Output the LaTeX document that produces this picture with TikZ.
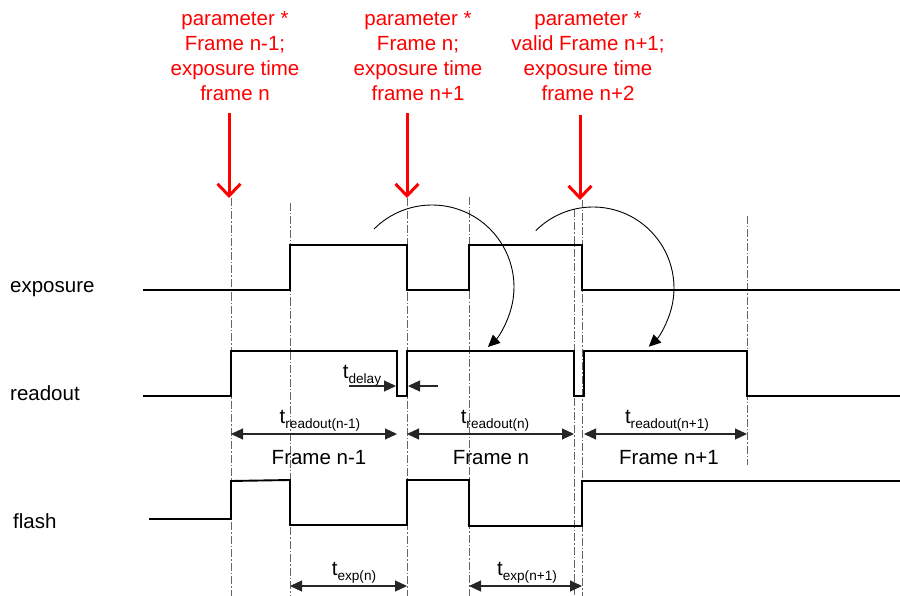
\documentclass[tikz,border=0pt]{standalone}
\usepackage{fontspec}
\setmainfont{Liberation Sans}
\usetikzlibrary{arrows.meta}
\newcommand{\tsubx}[1]{t\raisebox{-5pt}{\fontsize{13.6pt}{14pt}\selectfont #1}}
\begin{document}
\begin{tikzpicture}[x=1pt,y=-1pt,
  guide/.style={gray!80!black, line width=0.8pt, dash pattern=on 8pt off 2pt on 1.5pt off 2pt},
  signal/.style={black, line width=1.9pt, line join=miter},
  dimline/.style={black!85, line width=1.1pt, {Triangle[length=12pt,width=11pt]}-{Triangle[length=12pt,width=11pt]}},
  onearrow/.style={black!85, line width=1.1pt, -{Triangle[length=12pt,width=11pt]}},
  arcline/.style={black, line width=0.9pt, -{Triangle[length=12pt,width=11pt]}},
  redtext/.style={text=red, font=\fontsize{20.5pt}{25pt}\selectfont, align=center, inner sep=0pt},
  redarrow/.style={red, line width=3pt, -{Straight Barb[length=12pt,width=23pt]}},
  lbl/.style={font=\fontsize{20.5pt}{24pt}\selectfont, inner sep=0pt},
  dimlbl/.style={font=\fontsize{20.5pt}{24pt}\selectfont, inner sep=0pt, anchor=base}]
\useasboundingbox (0,0) rectangle (900,596);

% guide lines
\draw[guide] (231,198) -- (231,596);
\draw[guide] (290,203) -- (290,596);
\draw[guide] (407,198) -- (407,596);
\draw[guide] (469,197) -- (469,596);
\draw[guide] (574,209) -- (574,596);
\draw[guide] (582,200) -- (582,596);
\draw[guide] (747,216) -- (747,465);

% red annotations
\node[redtext, anchor=north] (p1) at (235,11) {parameter *\\Frame n-1;\\exposure time\\frame n};
\node[redtext, anchor=north] (p2) at (418,11) {parameter *\\Frame n;\\exposure time\\frame n+1};
\node[redtext, anchor=north] (p3) at (588,11) {parameter *\\valid Frame n+1;\\exposure time\\frame n+2};
\coordinate (a1s) at (229,113); \coordinate (a1e) at (229,198);
\coordinate (a2s) at (407,113); \coordinate (a2e) at (407,198);
\coordinate (a3s) at (580,115); \coordinate (a3e) at (580,200);
\draw[redarrow] (a1s) -- (a1e);
\draw[redarrow] (a2s) -- (a2e);
\draw[redarrow] (a3s) -- (a3e);

% row labels
\node[lbl, anchor=base west] (lexp) at (10,292) {exposure};
\node[lbl, anchor=base west] (lrd) at (10,400) {readout};
\node[lbl, anchor=base west] (lfl) at (13,528) {flash};

% exposure signal
\draw[signal] (143,290) -- (290,290) -- (290,245) -- (407,245) -- (407,290) -- (469,290)
  -- (469,245) -- (582,245) -- (582,290) -- (900,290);

% readout signal
\draw[signal] (143,396) -- (231,396) -- (231,351) -- (397,351) -- (397,396) -- (407,396)
  -- (407,351) -- (574,351) -- (574,396) -- (584,396) -- (584,351) -- (747,351)
  -- (747,396) -- (900,396);

% flash signal
\draw[signal] (149,519) -- (231,519) -- (231,481) -- (290,480) -- (290,525) -- (407,525)
  -- (407,480) -- (469,480) -- (469,526) -- (582,526) -- (582,481) -- (900,481);

% curved arrows
\draw[arcline] (432,287) ++(225:82) arc[start angle=225, end angle=407, radius=82];
\draw[arcline] (593,288) ++(225:81) arc[start angle=225, end angle=406.5, radius=81];

% t_delay
\node[dimlbl] (tdel) at (362,378) {\tsubx{delay}};
\coordinate (d1s) at (349,386); \coordinate (d1e) at (396,386);
\coordinate (d2s) at (438,386); \coordinate (d2e) at (408,386);
\draw[onearrow] (d1s) -- (d1e);
\draw[onearrow] (d2s) -- (d2e);

% readout dimensions
\coordinate (r1a) at (231,434); \coordinate (r1b) at (397,434);
\coordinate (r2a) at (407,434); \coordinate (r2b) at (574,434);
\coordinate (r3a) at (584,434); \coordinate (r3b) at (747,434);
\draw[dimline] (r1a) -- (r1b);
\draw[dimline] (r2a) -- (r2b);
\draw[dimline] (r3a) -- (r3b);
\node[dimlbl] (tr1) at (320,423) {\tsubx{readout(n-1)}};
\node[dimlbl] (tr2) at (495,423) {\tsubx{readout(n)}};
\node[dimlbl] (tr3) at (667,423) {\tsubx{readout(n+1)}};

\node[dimlbl] (f1) at (319,464) {Frame n-1};
\node[dimlbl] (f2) at (491,464) {Frame n};
\node[dimlbl] (f3) at (669,464) {Frame n+1};

% exposure dimensions
\coordinate (e1a) at (290,586); \coordinate (e1b) at (407,586);
\coordinate (e2a) at (469,586); \coordinate (e2b) at (582,586);
\draw[dimline] (e1a) -- (e1b);
\draw[dimline] (e2a) -- (e2b);
\node[dimlbl] (te1) at (354,575) {\tsubx{exp(n)}};
\node[dimlbl] (te2) at (527,575) {\tsubx{exp(n+1)}};
\end{tikzpicture}
\end{document}
